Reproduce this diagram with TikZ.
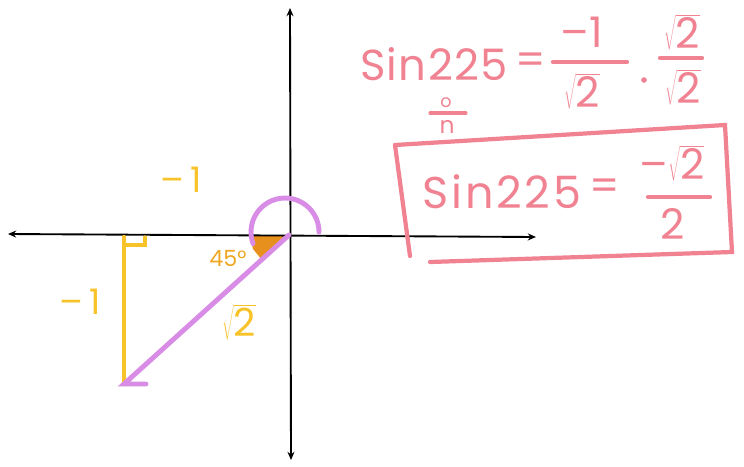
\documentclass[tikz,border=0pt]{standalone}
\usepackage{fontspec}
\setmainfont{Poppins}
\usepackage{tikz}
\usetikzlibrary{arrows.meta}
\definecolor{markpink}{HTML}{F08291}
\definecolor{markyellow}{HTML}{F8C328}
\definecolor{markpurple}{HTML}{D88CE6}
\definecolor{markorange}{HTML}{E8901E}

\begin{document}
\begin{tikzpicture}[x=0.03cm, y=-0.03cm,
    axis/.style={line width=1.6pt, {Stealth[length=7pt,width=6pt]}-{Stealth[length=7pt,width=6pt]}},
    yellowline/.style={markyellow, line width=3.6pt, line cap=round},
    purpleline/.style={markpurple, line width=4.2pt, line cap=round},
    pinkline/.style={markpink, line width=3.6pt, line cap=round},
    pinktext/.style={text=markpink, inner sep=0pt, font=\fontsize{36}{40}\selectfont},
    widetext/.style={pinktext, font=\fontsize{38}{42}\selectfont\addfontfeature{LetterSpace=6}},
    yellowtext/.style={text=markyellow, inner sep=0pt, font=\fontsize{30}{34}\selectfont}]
  \useasboundingbox (0,0) rectangle (744,466);

  \coordinate (O) at (289,235);
  \coordinate (xl) at (8,234);
  \coordinate (xr) at (536,237);
  \coordinate (yt) at (290,8);
  \coordinate (yb) at (291,460);
  \coordinate (F) at (124,237);
  \coordinate (P) at (124,384);

  % shaded 45 degree angle
  \fill[markorange] (O) -- (250,236) -- (253,249) -- (262,260) -- cycle;

  % axes
  \draw[axis] (xl) -- (xr);
  \draw[axis] (yt) -- (yb);

  % triangle
  \draw[yellowline] (F) -- (P);
  \draw[yellowline, line width=2.6pt] (124,245) -- (145,245) -- (145,237);
  \draw[purpleline] (O) -- (P) -- ++(22,0);
  \draw[purpleline] (319,232) arc[start angle=0, end angle=200, radius=1.02cm];

  % side labels
  \node[yellowtext] (topside) at (181,180) {–\,1};
  \node[yellowtext] (leftside) at (80,302) {–\,1};
  \node[yellowtext, font=\fontsize{33}{36}\selectfont] (hyp) at (239,322) {$\sqrt{\mbox{2}}$};
  \node[yellowtext, text=markorange!55!markyellow, font=\fontsize{19}{21}\selectfont] (ang) at (228,258) {45°};

  % first line
  \node[widetext, font=\fontsize{37}{41}\selectfont\addfontfeature{LetterSpace=3}] (sinA) at (434,64) {Sin225};
  \node[pinktext] (eqA) at (531,64) {=};
  \node[pinktext] (numA) at (582,32) {–1};
  \draw[pinkline] (553,62) -- (627,62);
  \node[pinktext] (denA) at (582,91) {$\sqrt{\mbox{2}}$};
  \fill[markpink] (644,80) circle (2.4pt);
  \node[pinktext] (numB) at (682,32) {$\sqrt{\mbox{2}}$};
  \draw[pinkline] (660,58) -- (702,58);
  \node[pinktext] (denB) at (683,87) {$\sqrt{\mbox{2}}$};
  \node[pinktext, font=\fontsize{15}{17}\selectfont] (degA) at (446,103) {o};
  \draw[pinkline, line width=2.6pt] (430,113) -- (466,113);
  \node[pinktext, font=\fontsize{20}{22}\selectfont] (degB) at (447,127) {n};

  % boxed result
  \draw[pinkline] (395,145) -- (725,125) -- (732,252) -- (430,262);
  \draw[pinkline] (395,145) -- (410,256);
  \node[widetext] (sinB) at (502,192) {Sin225};
  \node[pinktext] (eqB) at (605,190) {=};
  \node[pinktext] (numC) at (672,163) {–$\sqrt{\mbox{2}}$};
  \draw[pinkline] (648,197) -- (710,197);
  \node[pinktext] (denC) at (673,224) {2};
\end{tikzpicture}
\end{document}
